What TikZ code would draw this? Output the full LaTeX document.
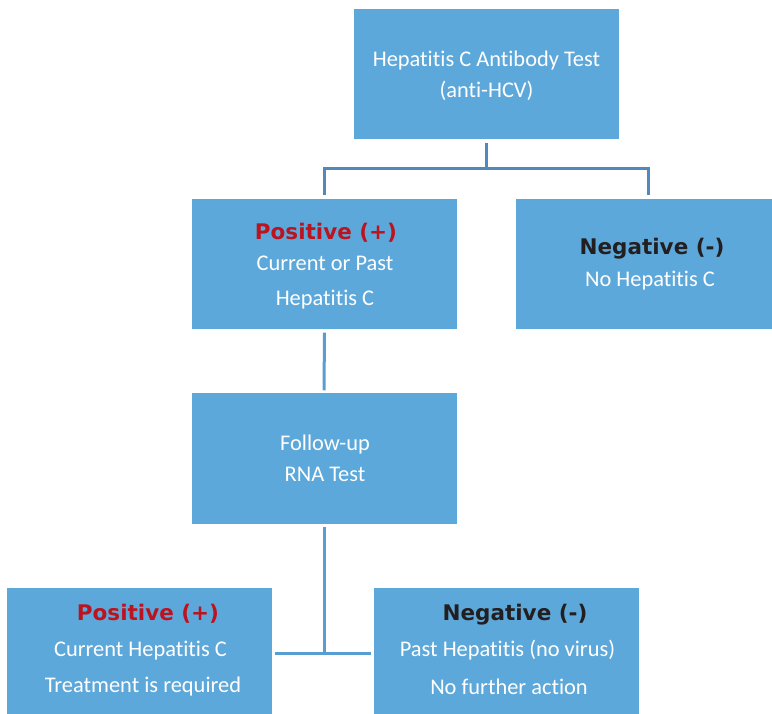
\documentclass[tikz,border=0pt]{standalone}
\usepackage{fontspec}
\setmainfont{Carlito}[Ligatures={NoCommon,NoContextual}]
\newfontfamily\hdfont{DejaVu Sans}
\definecolor{boxblue}{RGB}{93,168,218}
\definecolor{lineA}{RGB}{80,137,186}
\definecolor{lineB}{RGB}{88,158,210}
\definecolor{posred}{RGB}{188,20,30}
\definecolor{negblack}{RGB}{35,31,32}
\begin{document}
\begin{tikzpicture}[x=1pt,y=-1pt,
  box/.style={fill=boxblue, draw=none, minimum width=265pt, minimum height=130pt, inner sep=0pt},
  wt/.style={text=white, font=\fontsize{22.4}{26}\selectfont, inner sep=0pt, anchor=base},
  hdpos/.style={text=posred, font=\hdfont\bfseries\fontsize{21.5}{26}\selectfont, inner sep=0pt, anchor=base},
  hdneg/.style={text=negblack, font=\hdfont\bfseries\fontsize{21.5}{26}\selectfont, inner sep=0pt, anchor=base},
  connA/.style={draw=lineA, line width=3pt},
  connB/.style={draw=lineB, line width=3pt}]
\useasboundingbox (0,0) rectangle (772,714);

% boxes
\node[box] (top) at (486.5,74) {};
\node[box] (pos1) at (324.5,264.5) {};
\node[box] (neg1) at (648.5,264.5) {};
\node[box] (fu) at (324,458.5) {};
\node[box] (pos2) at (139,653) {};
\node[box] (neg2) at (506.5,653) {};

% texts
\node[wt] (topA) at (486.5,66.7) {Hepatitis C Antibody Test};
\node[wt] (topB) at (486.5,97.7) {(anti-HCV)};

\node[hdpos] (pos1A) at (326,240) {Positive (+)};
\node[wt] (pos1B) at (325,270.7) {Current or Past};
\node[wt] (pos1C) at (325,305.7) {Hepatitis C};

\node[hdneg] (neg1A) at (652,255) {Negative (-)};
\node[wt] (neg1B) at (650,287) {No Hepatitis C};

\node[wt] (fuA) at (325,450) {Follow-up};
\node[wt] (fuB) at (325,481) {RNA Test};

\node[hdpos] (pos2A) at (148,620.5) {Positive (+)};
\node[wt] (pos2B) at (140.5,656.7) {Current Hepatitis C};
\node[wt] (pos2C) at (143,692.3) {Treatment is required};

\node[hdneg] (neg2A) at (515,620) {Negative (-)};
\node[wt] (neg2B) at (507.5,656.7) {Past Hepatitis (no virus)};
\node[wt] (neg2C) at (509,694) {No further action};

% connectors
\coordinate (j1) at (486.5,169);
\draw[connA] ([yshift=-4pt]top.south) -- (j1);
\draw[connA] ([yshift=4pt]pos1.north) |- (j1) -| ([yshift=4pt]neg1.north);
\draw[connB] ([yshift=-3pt]pos1.south) -- ([yshift=3pt]fu.north);
\draw[connB] ([yshift=-3pt]fu.south) -- (fu.south |- pos2.east);
\draw[connB] ([xshift=3pt]pos2.east) -- ([xshift=-3pt]neg2.west);
\end{tikzpicture}
\end{document}
